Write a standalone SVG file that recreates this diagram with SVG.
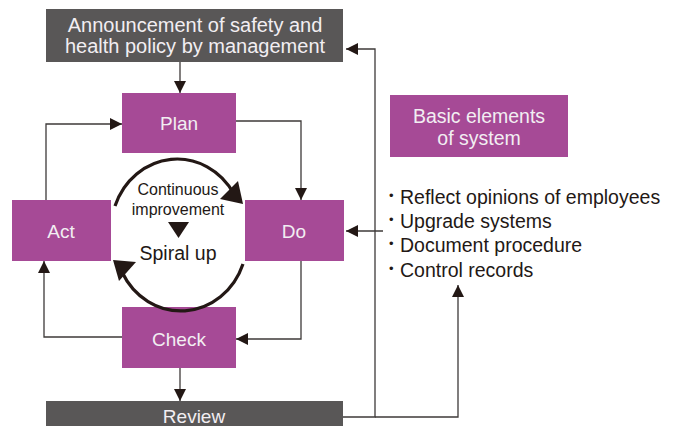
<svg xmlns="http://www.w3.org/2000/svg" width="677" height="426" viewBox="0 0 677 426">
<defs>
<style>
.dark{fill:#595757}
.pur{fill:#a64a96}
.bt{fill:#f2eef2;font-family:"Liberation Sans",Arial,sans-serif;font-size:19px;text-anchor:middle}
.tx{fill:#231815;font-family:"Liberation Sans",Arial,sans-serif;font-size:19.5px}
.ln{fill:none;stroke:#3e3a39;stroke-width:1.3}
.arc{fill:none;stroke:#231815;stroke-width:3.2}
</style>
<marker id="ah" viewBox="0 0 12 12" refX="12" refY="6" markerWidth="12" markerHeight="12" markerUnits="userSpaceOnUse" orient="auto">
<path d="M0,0 L12,6 L0,12 Z" fill="#231815"/>
</marker>
</defs>
<g id="announcement">
<rect class="dark" x="46" y="9" width="297" height="53"/>
<text class="bt" x="195" y="32" style="font-size:20px">Announcement of safety and</text>
<text class="bt" x="195" y="53" style="font-size:20px">health policy by management</text>
</g>
<g id="plan">
<rect class="pur" x="122" y="93" width="114" height="60"/>
<text class="bt" x="179" y="130">Plan</text>
</g>
<g id="do">
<rect class="pur" x="245" y="200" width="99" height="61"/>
<text class="bt" x="294" y="238">Do</text>
</g>
<g id="check">
<rect class="pur" x="122" y="307" width="114" height="61"/>
<text class="bt" x="179" y="346">Check</text>
</g>
<g id="act">
<rect class="pur" x="12" y="200" width="99" height="61"/>
<text class="bt" x="61" y="238">Act</text>
</g>
<g id="review">
<rect class="dark" x="46" y="401" width="297" height="30"/>
<text class="bt" x="194" y="423">Review</text>
</g>
<g id="basic">
<rect class="pur" x="390" y="95" width="178" height="62"/>
<text class="bt" x="479" y="123" style="font-size:19.5px">Basic elements</text>
<text class="bt" x="479" y="145" style="font-size:19.5px">of system</text>
</g>
<g id="bullets" class="tx">
<text x="389" y="204"><tspan font-size="13" dy="-4">•</tspan><tspan x="400" dy="4">Reflect opinions of employees</tspan></text>
<text x="389" y="228"><tspan font-size="13" dy="-4">•</tspan><tspan x="400" dy="4">Upgrade systems</tspan></text>
<text x="389" y="252"><tspan font-size="13" dy="-4">•</tspan><tspan x="400" dy="4">Document procedure</tspan></text>
<text x="389" y="277"><tspan font-size="13" dy="-4">•</tspan><tspan x="400" dy="4">Control records</tspan></text>
</g>
<g id="spiral">
<path class="arc" d="M115,206 A66,71 0 0 1 234,194"/>
<polygon points="243,204 220,199 238,181" fill="#231815"/>
<path class="arc" d="M243,264 A66,71 0 0 1 122,272"/>
<polygon points="113,260 136,262 119,281" fill="#231815"/>
<text class="tx" x="178" y="195" text-anchor="middle" style="font-size:16px">Continuous</text>
<text class="tx" x="178" y="215" text-anchor="middle" style="font-size:16px">improvement</text>
<polygon points="168,222 189,222 178.5,238" fill="#231815"/>
<text class="tx" x="178" y="260" text-anchor="middle" style="font-size:19.5px">Spiral up</text>
</g>
<g id="connectors">
<path class="ln" d="M180,62 V93" marker-end="url(#ah)"/>
<path class="ln" d="M236,121 H301 V200" marker-end="url(#ah)"/>
<path class="ln" d="M301,261 V339 H236" marker-end="url(#ah)"/>
<path class="ln" d="M122,337 H44 V261" marker-end="url(#ah)"/>
<path class="ln" d="M46,200 V124 H122" marker-end="url(#ah)"/>
<path class="ln" d="M180,368 V401" marker-end="url(#ah)"/>
<path class="ln" d="M343,417 H375 V49 H346" marker-end="url(#ah)"/>
<path class="ln" d="M383,231 H346" marker-end="url(#ah)"/>
<path class="ln" d="M375,417 H458 V285" marker-end="url(#ah)"/>
</g>
</svg>
